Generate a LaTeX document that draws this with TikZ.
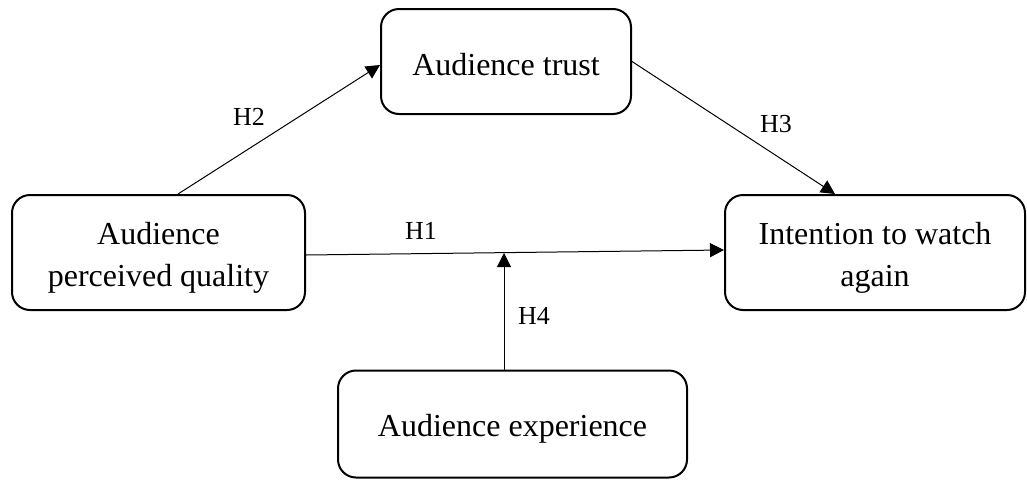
\documentclass[tikz,border=0pt]{standalone}
\usepackage{fontspec}
\setmainfont{Liberation Serif}
\usetikzlibrary{arrows.meta}
\begin{document}
\begin{tikzpicture}[x=1pt,y=-1pt,
  box/.style={draw, line width=2pt, rounded corners=18pt, inner sep=0pt},
  txt/.style={align=center, font=\fontsize{32}{42}\selectfont, inner sep=0pt},
  link/.style={line width=1pt, -{Triangle[length=14pt,width=14pt]}},
  lab/.style={font=\fontsize{26}{30}\selectfont, inner sep=0pt}]
\useasboundingbox (0,0) rectangle (1027,480);
\node[box, minimum width=250pt, minimum height=105pt] (t) at (506,61.5) {};
\node[box, minimum width=293pt, minimum height=115pt] (p) at (158.5,252.5) {};
\node[box, minimum width=300pt, minimum height=115pt] (i) at (875,252.5) {};
\node[box, minimum width=349pt, minimum height=107pt] (e) at (512.5,424) {};
\node[txt] (tt) at ([yshift=-3pt]t.center) {Audience trust};
\node[txt] (pt) at ([yshift=-5pt]p.center) {Audience\\perceived quality};
\node[txt] (it) at ([yshift=-5pt]i.center) {Intention to watch\\again};
\node[txt] (et) at ([yshift=-5pt]e.center) {Audience experience};
\coordinate (m) at (504,253);
\draw[link] ([yshift=-2.5pt]p.east) -- ([yshift=2.5pt]i.west);
\draw[link] ([xshift=19.5pt]p.north) -- ([yshift=-3.5pt]t.west);
\draw[link] (t.east) -- ([xshift=-40pt]i.north);
\draw[link] (e.north -| m) -- (m);
\node[lab] (h1) at (421,231) {H1};
\node[lab] (h2) at (249,117) {H2};
\node[lab] (h3) at (776,124) {H3};
\node[lab] (h4) at (534,316) {H4};
\end{tikzpicture}
\end{document}
